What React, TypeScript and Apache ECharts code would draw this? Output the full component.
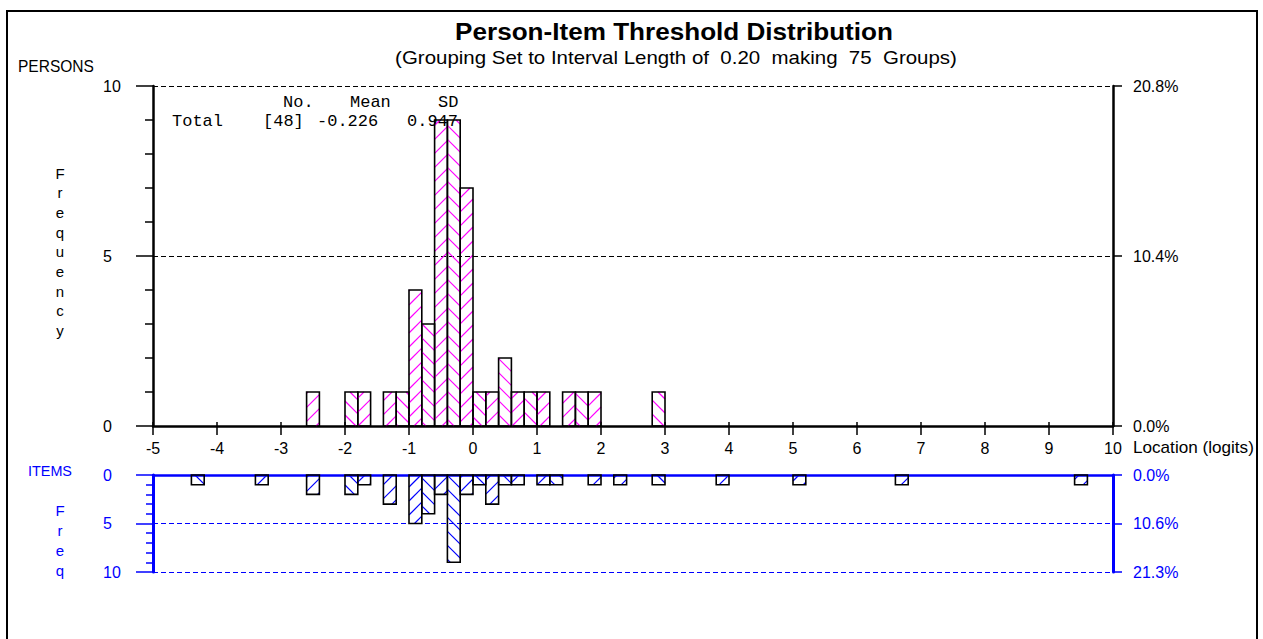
import React, { useEffect, useRef } from 'react';
import * as echarts from 'echarts';

// ---------- data ----------
const binWidth = 0.2;
const xMin = -5;
const xMax = 10;
const personBinStarts = [-2.6, -2.0, -1.8, -1.4, -1.2, -1.0, -0.8, -0.6, -0.4, -0.2, 0.0, 0.2, 0.4, 0.6, 0.8, 1.0, 1.4, 1.6, 1.8, 2.8];
const personCounts = [1, 1, 1, 1, 1, 4, 3, 9, 9, 7, 1, 1, 2, 1, 1, 1, 1, 1, 1, 1];
const itemBinStarts = [-4.4, -3.4, -2.6, -2.0, -1.8, -1.4, -1.0, -0.8, -0.6, -0.4, -0.2, 0.0, 0.2, 0.4, 0.6, 1.0, 1.2, 1.8, 2.2, 2.8, 3.8, 5.0, 6.6, 9.4];
const itemCounts = [1, 1, 2, 2, 1, 3, 5, 4, 2, 9, 2, 1, 3, 1, 1, 1, 1, 1, 1, 1, 1, 1, 1, 1];
const personPctLabels = ['0.0%', '10.4%', '20.8%'];
const itemPctLabels = ['0.0%', '10.6%', '21.3%'];
const personMean = '-0.226';
const personSD = '0.947';
const titleText = 'Person-Item Threshold Distribution';
const subtitleText = '(Grouping Set to Interval Length of  0.20  making  75  Groups)';

const FONT = 'Liberation Sans, Arial, sans-serif';
const MONO = 'Liberation Mono, Courier New, monospace';
const BLUE = '#0000ff';
const MAGENTA = '#ff00ff';

function measure(text: string, font: string): number {
  const c = document.createElement('canvas').getContext('2d');
  if (!c) return 1;
  c.font = font;
  return c.measureText(text).width || 1;
}

function hatch(l: number, t: number, r: number, b: number, back: boolean, p: number) {
  const segs: number[][] = [];
  if (back) {
    // lines y = x + c
    const cStart = Math.ceil((t - r) / p) * p;
    for (let c = cStart; c <= b - l; c += p) {
      const xa = Math.max(l, t - c);
      const xb = Math.min(r, b - c);
      if (xb - xa > 0.3) segs.push([xa, xa + c, xb, xb + c]);
    }
  } else {
    // lines y = c - x
    const cStart = Math.ceil((l + t) / p) * p;
    for (let c = cStart; c <= r + b; c += p) {
      const xa = Math.max(l, c - b);
      const xb = Math.min(r, c - t);
      if (xb - xa > 0.3) segs.push([xa, c - xa, xb, c - xb]);
    }
  }
  return segs;
}

function makeRenderItem(color: string) {
  return (params: any, api: any) => {
    const x0 = api.value(0);
    const x1 = api.value(1);
    const h = api.value(2);
    const pA = api.coord([x0, 0]);
    const pB = api.coord([x1, h]);
    const l = Math.min(pA[0], pB[0]);
    const r = Math.max(pA[0], pB[0]);
    const t = Math.min(pA[1], pB[1]);
    const b = Math.max(pA[1], pB[1]);
    const k = Math.round((x0 - xMin) / binWidth);
    const segs = hatch(l, t, r, b, k % 2 === 1, 14);
    const children: any[] = segs.map((s) => ({
      type: 'line',
      shape: { x1: s[0], y1: s[1], x2: s[2], y2: s[3] },
      style: { stroke: color, lineWidth: 1.2 },
      silent: true,
    }));
    children.push({
      type: 'rect',
      shape: { x: l, y: t, width: r - l, height: b - t },
      style: { fill: 'rgba(0,0,0,0)', stroke: '#000', lineWidth: 1.6 },
    });
    return { type: 'group', children };
  };
}

export default function App() {
  const ref = useRef<HTMLDivElement>(null);
  useEffect(() => {
    if (!ref.current) return;
    const chart = echarts.init(ref.current, undefined, { renderer: 'svg' });

    const personData = personBinStarts.map((s, i) => [s, s + binWidth, personCounts[i]]);
    const itemData = itemBinStarts.map((s, i) => [s, s + binWidth, itemCounts[i]]);
    const personN = personCounts.reduce((a, b) => a + b, 0);

    const fit = (text: string, font: string, target: number) => target / measure(text, font);
    const titleScale = fit(titleText, `bold 24px ${FONT}`, 438);
    const subScale = fit(subtitleText, `18px ${FONT}`, 562);
    const persScale = fit('PERSONS', `16px ${FONT}`, 76);
    const itemsScale = fit('ITEMS', `15px ${FONT}`, 44);
    const locScale = fit('Location (logits)', `16px ${FONT}`, 121);

    const txt = (text: string, x: number, y: number, o: any = {}) => ({
      type: 'text',
      x,
      y,
      scaleX: o.scaleX ?? 1,
      z: 1,
      style: {
        text,
        fill: o.color ?? '#000',
        font: o.font ?? `16px ${FONT}`,
        textAlign: o.align ?? 'left',
        textVerticalAlign: 'middle',
      },
    });

    const graphics: any[] = [
      { type: 'rect', shape: { x: 7, y: 11, width: 1250, height: 660 }, style: { fill: 'none', stroke: '#000', lineWidth: 2 }, z: 0 },
      txt(titleText, 674, 31, { font: `bold 24px ${FONT}`, align: 'center', scaleX: titleScale }),
      txt(subtitleText, 676, 58, { font: `18px ${FONT}`, align: 'center', scaleX: subScale }),
      txt('PERSONS', 18, 66, { scaleX: persScale }),
      txt('ITEMS', 28, 471, { font: `15px ${FONT}`, color: BLUE, scaleX: itemsScale }),
      txt('Location (logits)', 1133, 448, { scaleX: locScale }),
      txt('No.', 283, 102, { font: `17px ${MONO}` }),
      txt('Mean', 350, 102, { font: `17px ${MONO}` }),
      txt('SD', 438, 102, { font: `17px ${MONO}` }),
      txt('Total', 172, 121, { font: `17px ${MONO}` }),
      txt(`[${personN}]`, 263, 121, { font: `17px ${MONO}` }),
      txt(personMean, 317, 121, { font: `17px ${MONO}` }),
      txt(personSD, 407, 121, { font: `17px ${MONO}` }),
    ];
    'Frequency'.split('').forEach((ch, i) => {
      graphics.push(txt(ch, 60, 173 + i * 19.7, { align: 'center', font: `15px ${FONT}` }));
    });
    'Freq'.split('').forEach((ch, i) => {
      graphics.push(txt(ch, 60, 510 + i * 20.3, { align: 'center', font: `15px ${FONT}`, color: BLUE }));
    });

    const labelFont = { fontSize: 16, fontFamily: FONT };

    chart.setOption({
      animation: false,
      backgroundColor: '#fff',
      grid: [
        { left: 153, top: 86, width: 960, height: 340 },
        { left: 153, top: 475, width: 960, height: 97 },
      ],
      xAxis: [
        {
          gridIndex: 0, type: 'value', min: xMin, max: xMax, interval: 1, position: 'bottom',
          axisLine: { show: true, onZero: false, lineStyle: { color: '#000', width: 2.5 } },
          axisTick: { show: true, length: 9, lineStyle: { color: '#000', width: 1.5 } },
          axisLabel: { ...labelFont, color: '#000', margin: 14 },
          splitLine: { show: false },
        },
        {
          gridIndex: 0, type: 'value', min: xMin, max: xMax, interval: 1, position: 'bottom',
          axisLine: { show: false },
          axisTick: { show: true, inside: true, length: 4, lineStyle: { color: '#000', width: 1.5 } },
          axisLabel: { show: false },
          splitLine: { show: false },
        },
        {
          gridIndex: 1, type: 'value', min: xMin, max: xMax, interval: 1, position: 'top',
          axisLine: { show: true, onZero: false, lineStyle: { color: BLUE, width: 2.5 } },
          axisTick: { show: false },
          axisLabel: { show: false },
          splitLine: { show: false },
        },
      ],
      yAxis: [
        {
          gridIndex: 0, type: 'value', min: 0, max: 10, interval: 5, position: 'left',
          axisLine: { show: true, onZero: false, lineStyle: { color: '#000', width: 2.5 } },
          axisTick: { show: true, length: 17, lineStyle: { color: '#000', width: 1.5 } },
          minorTick: { show: true, splitNumber: 5, length: 8, lineStyle: { color: '#000', width: 1.5 } },
          axisLabel: { ...labelFont, color: '#000', align: 'left', margin: 50 },
          splitLine: { show: true, lineStyle: { color: '#000', type: [5, 3], width: 1 } },
        },
        {
          gridIndex: 0, type: 'value', min: 0, max: 10, interval: 5, position: 'right',
          axisLine: { show: true, onZero: false, lineStyle: { color: '#000', width: 2.5 } },
          axisTick: { show: true, length: 9, lineStyle: { color: '#000', width: 1.5 } },
          axisLabel: {
            ...labelFont, color: '#000', align: 'left', margin: 20,
            formatter: (v: number) => personPctLabels[Math.round(v / 5)] ?? '',
          },
          splitLine: { show: false },
        },
        {
          gridIndex: 1, type: 'value', min: 0, max: 10, interval: 5, position: 'left', inverse: true,
          axisLine: { show: true, onZero: false, lineStyle: { color: BLUE, width: 3 } },
          axisTick: { show: true, length: 17, lineStyle: { color: BLUE, width: 1.5 } },
          minorTick: { show: true, splitNumber: 5, length: 7, lineStyle: { color: BLUE, width: 1.5 } },
          axisLabel: { ...labelFont, color: BLUE, align: 'left', margin: 50 },
          splitLine: { show: true, lineStyle: { color: BLUE, type: [5, 3], width: 1.2 } },
        },
        {
          gridIndex: 1, type: 'value', min: 0, max: 10, interval: 5, position: 'right', inverse: true,
          axisLine: { show: true, onZero: false, lineStyle: { color: BLUE, width: 3 } },
          axisTick: { show: true, length: 9, lineStyle: { color: BLUE, width: 1.5 } },
          axisLabel: {
            ...labelFont, color: BLUE, align: 'left', margin: 20,
            formatter: (v: number) => itemPctLabels[Math.round(v / 5)] ?? '',
          },
          splitLine: { show: false },
        },
      ],
      series: [
        {
          type: 'custom', name: 'Persons', xAxisIndex: 0, yAxisIndex: 0,
          data: personData, encode: { x: [0, 1], y: 2 },
          renderItem: makeRenderItem(MAGENTA), z: 3,
        },
        {
          type: 'custom', name: 'Items', xAxisIndex: 2, yAxisIndex: 2,
          data: itemData, encode: { x: [0, 1], y: 2 },
          renderItem: makeRenderItem(BLUE), z: 3,
        },
      ],
      graphic: graphics,
    });
    return () => chart.dispose();
  }, []);
  return <div ref={ref} style={{ position: 'absolute', left: 0, top: 0, width: 1263, height: 639 }} />;
}
